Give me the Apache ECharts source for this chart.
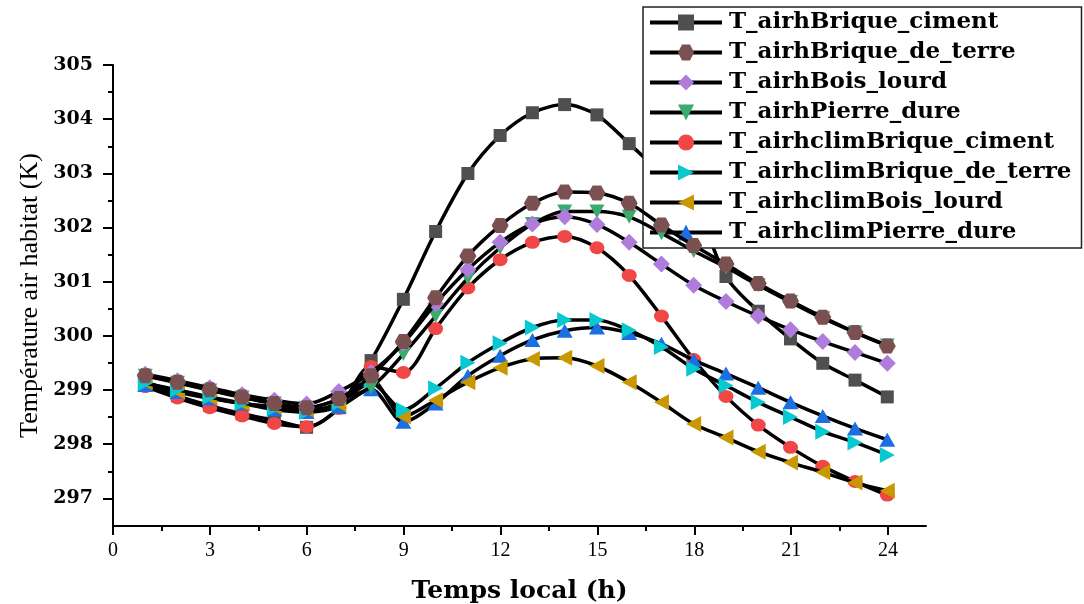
<!DOCTYPE html>
<html>
<head>
<meta charset="utf-8">
<script src="https://cdn.jsdelivr.net/npm/echarts@6/dist/echarts.min.js"></script>
<style>
html,body{margin:0;padding:0;background:#fff;}
#main{width:1084px;height:604px;}
</style>
</head>
<body>
<div id="main"></div>
<script>
const hours = [1,2,3,4,5,6,7,8,9,10,11,12,13,14,15,16,17,18,19,20,21,22,23,24];
const seriesNames = [
  'T_airhBrique_ciment','T_airhBrique_de_terre','T_airhBois_lourd','T_airhPierre_dure',
  'T_airhclimBrique_ciment','T_airhclimBrique_de_terre','T_airhclimBois_lourd','T_airhclimPierre_dure'
];
const airhBriqueCiment = [299.1,298.9,298.72,298.57,298.45,298.32,298.68,299.55,300.68,301.93,303.0,303.7,304.12,304.27,304.08,303.55,303.0,302.48,301.1,300.46,299.95,299.5,299.19,298.88];
const airhBriqueDeTerre = [299.27,299.15,299.01,298.88,298.76,298.68,298.85,299.27,299.9,300.71,301.48,302.04,302.45,302.66,302.64,302.45,302.05,301.67,301.33,300.97,300.65,300.35,300.07,299.82];
const airhBoisLourd = [299.3,299.18,299.05,298.92,298.82,298.75,298.98,299.33,299.87,300.6,301.23,301.73,302.07,302.2,302.06,301.73,301.33,300.94,300.64,300.37,300.12,299.9,299.7,299.5];
const airhPierreDure = [299.27,299.14,299.0,298.87,298.76,298.68,298.83,299.06,299.67,300.37,301.07,301.63,302.07,302.3,302.3,302.2,301.9,301.57,301.27,300.94,300.63,300.33,300.07,299.83];
const climBriqueCiment = [299.07,298.86,298.68,298.53,298.39,298.33,298.67,299.44,299.33,300.14,300.89,301.41,301.73,301.84,301.63,301.12,300.37,299.57,298.89,298.36,297.95,297.6,297.32,297.07];
const climBriqueDeTerre = [299.13,299.01,298.88,298.77,298.67,298.6,298.77,299.13,298.64,299.04,299.51,299.87,300.16,300.3,300.3,300.11,299.8,299.4,299.09,298.78,298.51,298.24,298.04,297.81];
const climBoisLourd = [299.15,298.98,298.87,298.76,298.7,298.65,298.75,299.2,298.52,298.82,299.15,299.42,299.58,299.6,299.45,299.15,298.78,298.38,298.13,297.87,297.67,297.49,297.3,297.15];
const climPierreDure = [299.1,298.97,298.85,298.76,298.65,298.6,298.7,299.02,298.42,298.76,299.27,299.64,299.93,300.1,300.16,300.06,299.86,299.56,299.31,299.05,298.78,298.53,298.3,298.09];

const allValues = [airhBriqueCiment, airhBriqueDeTerre, airhBoisLourd, airhPierreDure,
  climBriqueCiment, climBriqueDeTerre, climBoisLourd, climPierreDure];

const colors = ['#4f4f4f','#7a5050','#b07cdc','#3aab6c','#f04646','#08c8d0','#c99700','#1c6fe0'];
const symbols = [
  'rect',
  'path://M2.5,0 L7.5,0 L10,4.33 L7.5,8.66 L2.5,8.66 L0,4.33 Z',
  'diamond',
  'path://M0,0 L10,0 L5,9 Z',
  'circle',
  'path://M0,0 L9,5 L0,10 Z',
  'path://M9,0 L0,5 L9,10 Z',
  'path://M5,0 L10,9 L0,9 Z'
];
const sizes = [[13,13],[17,15],[17,17],[15,14],[15,13],[15,16],[15,16],[16,14]];
const zOrder = [2,9,8,7,3,6,5,4];

const series = seriesNames.map((name, i) => ({
  name: name,
  type: 'line',
  xAxisIndex: 0, yAxisIndex: 0,
  smooth: 0.3,
  z: zOrder[i],
  data: hours.map((h, k) => [h, allValues[i][k]]),
  symbol: symbols[i],
  symbolSize: sizes[i],
  showSymbol: true,
  lineStyle: { color: '#000', width: 3.5 },
  itemStyle: { color: colors[i], borderWidth: 0 },
  emphasis: { disabled: true },
  animation: false
}));

const serif = 'Liberation Serif';
const boldSerif = 'DejaVu Serif';

const chart = echarts.init(document.getElementById('main'), null, { renderer: 'canvas' });
chart.setOption({
  animation: false,
  backgroundColor: '#fff',
  grid: [
    { left: 113, right: 158, top: 65, bottom: 78, containLabel: false, outerBoundsMode: 'none' },
    { left: 113, right: 196, top: 65, bottom: 78, containLabel: false, outerBoundsMode: 'none' },
    { left: 113, right: 158, top: 65, bottom: 105.6, containLabel: false, outerBoundsMode: 'none' }
  ],
  xAxis: [
    {
      gridIndex: 0, type: 'value', min: 0, max: 25.2,
      name: 'Temps local (h)', nameLocation: 'middle', nameGap: 53,
      nameTextStyle: { fontFamily: boldSerif, fontWeight: 'bold', fontSize: 25, color: '#000' },
      axisLine: { show: true, onZero: false, lineStyle: { color: '#000', width: 2 } },
      axisTick: { show: false }, axisLabel: { show: false }, splitLine: { show: false }
    },
    {
      gridIndex: 1, type: 'value', min: 0, max: 24, interval: 3,
      axisLine: { show: false, onZero: false },
      axisTick: { show: true, inside: false, length: 9, lineStyle: { color: '#000', width: 2 } },
      minorTick: { show: true, splitNumber: 2, length: 5, lineStyle: { color: '#000', width: 2 } },
      splitLine: { show: false },
      axisLabel: { margin: 15, fontFamily: serif, fontSize: 20, color: '#000' }
    },
    { gridIndex: 2, type: 'value', min: 0, max: 25.2, show: false }
  ],
  yAxis: [
    {
      gridIndex: 0, type: 'value', min: 296.5, max: 305,
      name: 'Température air habitat (K)', nameLocation: 'middle', nameGap: 70,
      nameTextStyle: { fontFamily: serif, fontSize: 26, color: '#000' },
      axisLine: { show: true, onZero: false, lineStyle: { color: '#000', width: 2 } },
      axisTick: { show: false }, axisLabel: { show: false }, splitLine: { show: false }
    },
    { gridIndex: 1, type: 'value', min: 296.5, max: 305, show: false },
    {
      gridIndex: 2, type: 'value', min: 297, max: 305, interval: 1,
      axisLine: { show: false, onZero: false },
      axisTick: { show: true, inside: false, length: 10, lineStyle: { color: '#000', width: 2 } },
      minorTick: { show: true, splitNumber: 2, length: 5, lineStyle: { color: '#000', width: 2 } },
      splitLine: { show: false },
      axisLabel: { margin: 20, fontFamily: boldSerif, fontWeight: 'bold', fontSize: 19, color: '#000' }
    }
  ],
  legend: {
    data: seriesNames,
    orient: 'vertical',
    left: 643, top: 7,
    padding: [4, 10, 4, 5],
    itemWidth: 72, itemHeight: 20, itemGap: 7,
    backgroundColor: '#fff',
    borderColor: '#222', borderWidth: 1.5, borderRadius: 0,
    lineStyle: { color: '#000', width: 4 },
    textStyle: { fontFamily: boldSerif, fontWeight: 'bold', fontSize: 23, color: '#000', lineHeight: 22, padding: [0,0,0,2] },
    selectedMode: false
  },
  series: series
});
</script>
</body>
</html>
